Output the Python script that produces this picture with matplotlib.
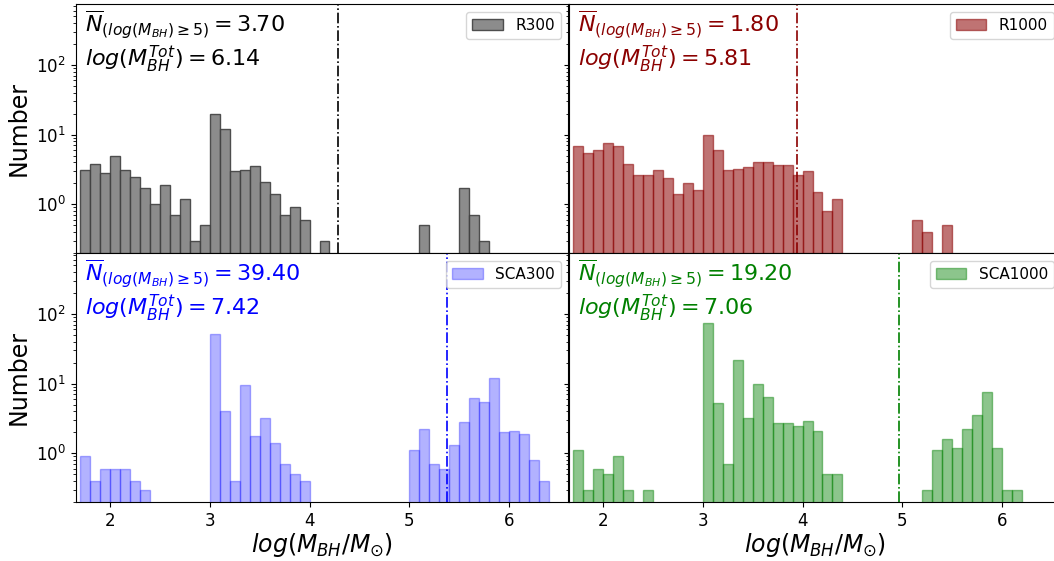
import numpy as np
import matplotlib
matplotlib.use('Agg')
import matplotlib.pyplot as plt

# bin edges in log(M_BH/Msun), width 0.1
edges = np.round(np.arange(1.7, 6.45, 0.1), 1)

# mean number of BHs per bin
r300 = [3.1, 3.8, 2.8, 4.9, 3.1, 2.5, 1.7, 1.0, 1.9, 0.7,
        1.2, 0.3, 0.5, 20, 12, 3.0, 3.1, 3.6, 2.1, 1.4,
        0.7, 0.9, 0.6, 0, 0.3, 0, 0, 0, 0, 0,
        0, 0, 0, 0, 0.5, 0, 0, 0, 1.7, 0.7,
        0.3, 0, 0, 0, 0, 0, 0]
r1000 = [6.9, 5.5, 6.0, 7.7, 6.8, 3.8, 2.6, 2.6, 3.1, 2.4,
         1.4, 2.0, 1.6, 10, 6.0, 3.1, 3.2, 3.4, 4.0, 4.1,
         3.7, 3.7, 2.6, 3.0, 1.5, 0.8, 1.2, 0, 0, 0,
         0, 0, 0, 0, 0.6, 0.4, 0, 0.5, 0, 0,
         0, 0, 0, 0, 0, 0, 0]
sca300 = [0.9, 0.4, 0.6, 0.6, 0.6, 0.4, 0.3, 0, 0, 0,
          0, 0, 0, 52, 4.1, 0.4, 9.6, 1.8, 3.2, 1.4,
          0.7, 0.5, 0.4, 0, 0, 0, 0, 0, 0, 0,
          0, 0, 0, 1.1, 2.2, 0.7, 0.6, 1.3, 2.8, 6.3,
          5.4, 12, 2.0, 2.1, 1.9, 0.8, 0.4]
sca1000 = [1.1, 0.3, 0.6, 0.5, 0.9, 0.3, 0, 0.3, 0, 0,
           0, 0, 0, 75, 5.3, 0.7, 22, 3.2, 10, 6.5,
           2.7, 2.7, 2.5, 2.9, 2.1, 0.5, 0.5, 0, 0, 0,
           0, 0, 0, 0, 0, 0.3, 1.1, 1.6, 1.2, 2.2,
           3.5, 7.7, 1.2, 0.3, 0.3, 0, 0]

labels = ['R300', 'R1000', 'SCA300', 'SCA1000']
n_mean = ['3.70', '1.80', '39.40', '19.20']
m_tot = ['6.14', '5.81', '7.42', '7.06']
vlines = [4.29, 3.94, 5.38, 4.97]
colores = ['grey', 'darkred', 'blue', 'green']
txt_col = ['black', 'darkred', 'blue', 'green']
alphas = [0.9, 0.55, 0.3, 0.45]
bordes = ['#404040', 'darkred', 'blue', 'green']
datos = [r300, r1000, sca300, sca1000]

fig = plt.figure(figsize=(10.54, 5.61), dpi=100)
W, H = 1054, 561
pos = [(75.5, 4), (568.5, 4), (75.5, 253), (568.5, 253)]
w_ax, h_ax = 493, 249

centros = edges[:-1] + 0.05
for i in range(4):
    x0, y0 = pos[i]
    ax = fig.add_axes([x0 / W, (H - y0 - h_ax) / H, w_ax / W, h_ax / H])
    ax.hist(centros, bins=edges, weights=datos[i], color=colores[i], alpha=alphas[i],
            edgecolor=bordes[i], linewidth=1, label=labels[i])
    ax.set_yscale('log')
    ax.set_ylim(0.2, 750)
    ax.set_xlim(1.65, 6.6)
    ax.axvline(vlines[i], color=txt_col[i], ls='-.', lw=1.2)
    ax.text(0.02, 0.98,
            '$\\overline{N}_{(log(M_{BH})\\geq5)} = %s$\n$log(M_{BH}^{Tot}) = %s$' % (n_mean[i], m_tot[i]),
            transform=ax.transAxes, ha='left', va='top', fontsize=16, color=txt_col[i],
            linespacing=1.12)
    ax.legend(loc='upper right', fontsize=11)
    ax.tick_params(labelsize=12)
    ax.set_xticks([2, 3, 4, 5, 6])
    if i < 2:
        ax.tick_params(labelbottom=False)
    else:
        ax.set_xlabel('$log(M_{BH}/M_{\\odot})$', fontsize=17, labelpad=1)
    if i % 2 == 1:
        ax.tick_params(labelleft=False)
    else:
        ax.set_ylabel('Number', fontsize=17, labelpad=4)

fig.savefig('out.png', dpi=100)
